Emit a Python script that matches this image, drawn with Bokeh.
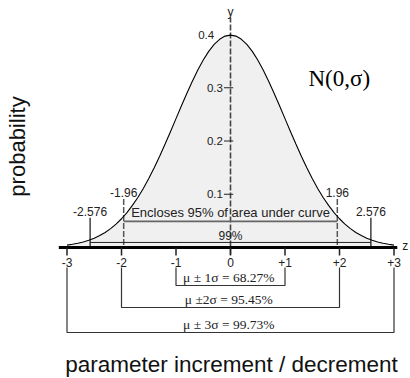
from bokeh.plotting import figure
from bokeh.models import Range1d
from bokeh.embed import file_html
from bokeh.resources import INLINE
from bokeh.core.properties import value
import math

# ---- data ----
curve_z = [-3.0, -2.9, -2.8, -2.7, -2.6, -2.5, -2.4, -2.3, -2.2, -2.1,
           -2.0, -1.9, -1.8, -1.7, -1.6, -1.5, -1.4, -1.3, -1.2, -1.1,
           -1.0, -0.9, -0.8, -0.7, -0.6, -0.5, -0.4, -0.3, -0.2, -0.1,
           0.0, 0.1, 0.2, 0.3, 0.4, 0.5, 0.6, 0.7, 0.8, 0.9,
           1.0, 1.1, 1.2, 1.3, 1.4, 1.5, 1.6, 1.7, 1.8, 1.9,
           2.0, 2.1, 2.2, 2.3, 2.4, 2.5, 2.6, 2.7, 2.8, 2.9, 3.0]
curve_p = [0.0044, 0.0060, 0.0079, 0.0104, 0.0136, 0.0175, 0.0224, 0.0283, 0.0355, 0.0440,
           0.0540, 0.0656, 0.0790, 0.0940, 0.1109, 0.1295, 0.1497, 0.1714, 0.1942, 0.2179,
           0.2420, 0.2661, 0.2897, 0.3123, 0.3332, 0.3521, 0.3683, 0.3814, 0.3910, 0.3970,
           0.3989, 0.3970, 0.3910, 0.3814, 0.3683, 0.3521, 0.3332, 0.3123, 0.2897, 0.2661,
           0.2420, 0.2179, 0.1942, 0.1714, 0.1497, 0.1295, 0.1109, 0.0940, 0.0790, 0.0656,
           0.0540, 0.0440, 0.0355, 0.0283, 0.0224, 0.0175, 0.0136, 0.0104, 0.0079, 0.0060, 0.0044]

z_ticks = [-3, -2, -1, 0, 1, 2, 3]
z_tick_labels = ["-3", "-2", "-1", "0", "+1", "+2", "+3"]
y_ticks = [0.1, 0.2, 0.3]
y_tick_labels = ["0.1", "0.2", "0.3"]
y_top_tick = 0.4
y_top_label = "0.4"

z95 = [-1.96, 1.96]
z95_labels = ["-1.96", "1.96"]
z99 = [-2.576, 2.576]
z99_labels = ["-2.576", "2.576"]

sigma_k = [1, 2, 3]
sigma_text = ["\u03bc \u00b1 1\u03c3  = 68.27%", "\u03bc \u00b12\u03c3  = 95.45%", "\u03bc \u00b1 3\u03c3  = 99.73%"]

# ---- figure ----
W, H = 410, 378
XPX = 54.5    # px per z unit
YPX = 532.5   # px per probability unit
X0PX, Y0PX = 230, 247
x0 = -X0PX / XPX
y1 = Y0PX / YPX
p = figure(width=W, height=H, output_backend="svg", toolbar_location=None,
           x_range=Range1d(x0, x0 + W / XPX), y_range=Range1d(y1 - H / YPX, y1),
           min_border=0)
p.axis.visible = False
p.grid.visible = False
p.outline_line_color = None
p.background_fill_color = "white"

sans = value("Liberation Sans")
serif = value("Liberation Serif")

# area under curve
p.varea(x=curve_z, y1=[0] * len(curve_z), y2=curve_p, fill_color="#f0f0f0")

# y axis (dashed)
p.segment(x0=[0], y0=[-0.013], x1=[0], y1=[0.432], line_color="#444444",
          line_width=1.6, line_dash="6 2")
p.text(x=[0], y=[0.4415], text=["y"], text_font=sans, text_font_size="12px",
       text_align="center", text_baseline="middle", text_color="#222222")
p.segment(x0=[-0.12] * 3, y0=y_ticks, x1=[0.05] * 3, y1=y_ticks,
          line_color="#222222", line_width=1.2)
p.text(x=[-0.14] * 3, y=y_ticks, text=y_tick_labels, text_font=sans,
       text_font_size="11.5px", text_align="right", text_baseline="middle",
       text_color="#222222")
p.text(x=[-0.3], y=[y_top_tick], text=[y_top_label], text_font=sans,
       text_font_size="11.5px", text_align="right", text_baseline="middle",
       text_color="#222222")

# 95% and 99% markers
p.segment(x0=z95, y0=[0.091] * 2, x1=z95, y1=[0] * 2, line_color="#555555",
          line_width=1.5, line_dash="6 2")
p.text(x=z95, y=[0.104] * 2, text=z95_labels, text_font=sans,
       text_font_size="12px", text_align="center", text_baseline="middle",
       text_color="#222222")
p.segment(x0=z99, y0=[0.056] * 2, x1=z99, y1=[0] * 2, line_color="#111111",
          line_width=1.2)
p.text(x=z99, y=[0.068] * 2, text=z99_labels, text_font=sans,
       text_font_size="12px", text_align="center", text_baseline="middle",
       text_color="#222222")
p.segment(x0=[z95[0]], y0=[0.049], x1=[z95[1]], y1=[0.049],
          line_color="#666666", line_width=1.6)
p.text(x=[0], y=[0.066], text=["Encloses 95% of area under curve"],
       text_font=sans, text_font_size="13px", text_align="center",
       text_baseline="middle", text_color="#222222")
p.segment(x0=[z99[0]], y0=[0.0095], x1=[z99[1]], y1=[0.0095],
          line_color="#222222", line_width=1.0)
p.text(x=[0], y=[0.0215], text=["99%"], text_font=sans,
       text_font_size="12px", text_align="center", text_baseline="middle",
       text_color="#222222")

# curve
p.line(curve_z, curve_p, line_color="black", line_width=1.1)

# x axis
p.segment(x0=[-3.15], y0=[0], x1=[3.06], y1=[0], line_color="black", line_width=3)
p.text(x=[3.15], y=[0.002], text=["z"], text_font=sans, text_font_size="12px",
       text_align="left", text_baseline="middle", text_color="#222222")
p.segment(x0=z_ticks, y0=[0] * 7, x1=z_ticks, y1=[-0.015] * 7,
          line_color="#222222", line_width=1.5)
p.text(x=z_ticks, y=[-0.0275] * 7, text=z_tick_labels, text_font=sans,
       text_font_size="12px", text_align="center", text_baseline="middle",
       text_color="#222222")

# sigma brackets
bracket_y = [-0.0714, -0.1127, -0.1596]
label_y = [-0.0555, -0.0985, -0.1455]
for k, by, ly, t in zip(sigma_k, bracket_y, label_y, sigma_text):
    p.multi_line(xs=[[-k, -k, k, k]], ys=[[-0.0376, by, by, -0.0376]],
                 line_color="#333333", line_width=1.2)
    p.text(x=[0], y=[ly], text=[t], text_font=serif, text_font_size="13.5px",
           text_align="center", text_baseline="middle", text_color="#222222")

# titles
p.text(x=[(308 - X0PX) / XPX], y=[(Y0PX - 78) / YPX], text=["N(0,\u03c3)"],
       text_font=serif, text_font_size="23px", text_align="left",
       text_baseline="middle", text_color="black")
p.text(x=[(17 - X0PX) / XPX], y=[(Y0PX - 146) / YPX], text=["probability"],
       text_font=sans, text_font_size="22px", text_align="center",
       text_baseline="middle", angle=math.pi / 2, text_color="#111111")
p.text(x=[(231 - X0PX) / XPX], y=[(Y0PX - 364) / YPX],
       text=["parameter increment / decrement"], text_font=sans,
       text_font_size="22.5px", text_align="center", text_baseline="middle",
       text_color="#111111")

open("out.html", "w").write(file_html(p, INLINE))
